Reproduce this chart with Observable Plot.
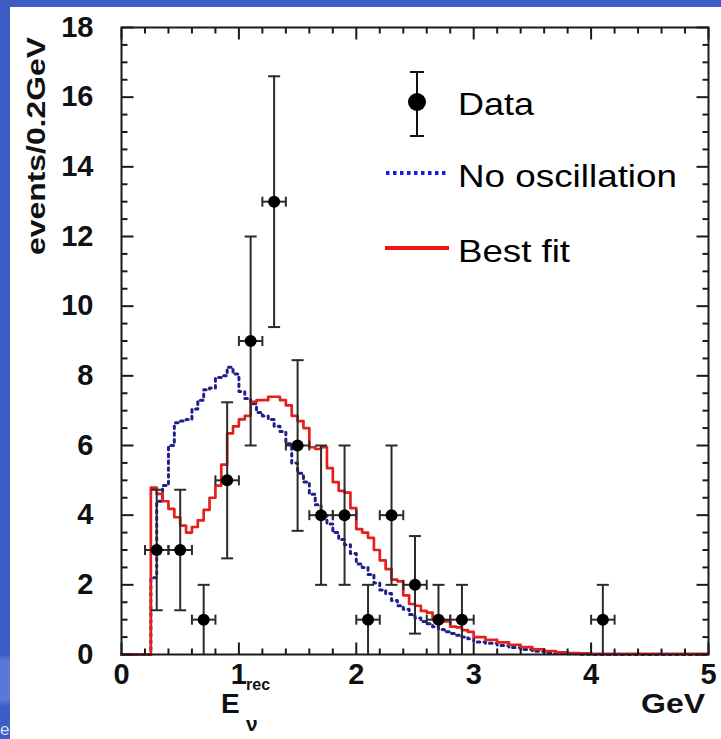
<!DOCTYPE html>
<html>
<head>
<meta charset="utf-8">
<script src="https://cdn.jsdelivr.net/npm/d3@7"></script>
<script src="https://cdn.jsdelivr.net/npm/@observablehq/plot@0.6"></script>
<style>
  html, body { margin: 0; padding: 0; }
  body { width: 721px; height: 739px; position: relative; overflow: hidden;
         background: linear-gradient(to bottom, #3e5cc6 0px, #3e5cc6 655px, #5a78da 660px, #5a78da 700px, #3e5cc6 706px, #3e5cc6 739px);
         font-family: "Liberation Sans", Arial, sans-serif; }
  #paper { position: absolute; left: 10px; top: 7px; width: 711px; height: 732px; background: #ffffff; }
  #overlay { position: absolute; left: 0; top: 0; pointer-events: none; }
</style>
</head>
<body>
<div id="paper"></div>
<svg id="overlay" width="721" height="739" font-family="Liberation Sans, Arial, sans-serif">
  <!-- legend -->
  <line x1="417" y1="72" x2="417" y2="136" stroke="#111" stroke-width="2"/>
  <line x1="410" y1="72" x2="424" y2="72" stroke="#111" stroke-width="2"/>
  <line x1="410" y1="136" x2="424" y2="136" stroke="#111" stroke-width="2"/>
  <circle cx="417" cy="102" r="9" fill="#000"/>
  <text x="458" y="115" font-size="32" textLength="76" lengthAdjust="spacingAndGlyphs" fill="#000">Data</text>
  <line x1="386" y1="173" x2="446" y2="173" stroke="#1a1ae8" stroke-width="4" stroke-dasharray="3.5,3.5"/>
  <text x="458" y="187" font-size="32" textLength="219" lengthAdjust="spacingAndGlyphs" fill="#000">No oscillation</text>
  <line x1="385" y1="248" x2="449" y2="248" stroke="#ee1515" stroke-width="4"/>
  <text x="458" y="262" font-size="32" textLength="112" lengthAdjust="spacingAndGlyphs" fill="#000">Best fit</text>
  <!-- axis titles -->
  <text transform="translate(45,146) rotate(-90)" text-anchor="middle" font-weight="bold" font-size="25" textLength="218" lengthAdjust="spacingAndGlyphs" fill="#111">events/0.2GeV</text>
  <text x="221" y="713" font-weight="bold" font-size="28" fill="#111">E</text>
  <text x="246" y="690" font-weight="bold" font-size="16" fill="#111">rec</text>
  <text x="246" y="731" font-weight="bold" font-size="21" fill="#111">ν</text>
  <text x="641" y="713" font-weight="bold" font-size="28" textLength="64" lengthAdjust="spacingAndGlyphs" fill="#111">GeV</text>
  <!-- slide page number fragment -->
  <text x="0" y="735" font-size="17" fill="#d8defa">e</text>
</svg>
<script>
// ---------- data ----------
// Measured points (centre of 0.2 GeV bin, counts, lower / upper error bar ends)
const dataX  = [0.3, 0.5, 0.7, 0.9, 1.1, 1.3, 1.5, 1.7, 1.9, 2.1, 2.3, 2.5, 2.7, 2.9, 4.1];
const dataN  = [3, 3, 1, 5, 9, 13, 6, 4, 4, 1, 4, 2, 1, 1, 1];
const dataLo = [1.27, 1.27, 0, 2.76, 6, 9.4, 3.55, 2, 2, 0, 2, 0.6, 0, 0, 0];
const dataHi = [4.73, 4.73, 2, 7.24, 12, 16.6, 8.45, 6, 6, 2, 6, 3.4, 2, 2, 2];
const binHalfWidth = 0.1;

// Histogram left bin edges (GeV) and the final right edge
const histEdges = [0,
  0.25, 0.30, 0.35, 0.40, 0.45, 0.50, 0.55, 0.60, 0.65, 0.70, 0.75, 0.80, 0.85, 0.90, 0.95,
  1.00, 1.05, 1.10, 1.15, 1.20, 1.25, 1.30, 1.35, 1.40, 1.45, 1.50, 1.55, 1.60, 1.65, 1.70, 1.75, 1.80, 1.85, 1.90, 1.95,
  2.00, 2.05, 2.10, 2.15, 2.20, 2.25, 2.30, 2.35, 2.40, 2.45, 2.50, 2.55, 2.60, 2.65, 2.70, 2.75, 2.80, 2.85, 2.90, 2.95,
  3.0, 3.1, 3.2, 3.3, 3.4, 3.5, 3.6, 3.7, 3.8, 3.9, 4.0];
const histEnd = 5.0;

// Best fit (red solid)
const bestFit = [0,
  4.79, 4.61, 4.40, 4.18, 3.94, 3.70, 3.50, 3.66, 3.85, 4.15, 4.50, 4.85, 5.45, 6.35, 6.55,
  6.75, 6.85, 7.25, 7.30, 7.30, 7.40, 7.40, 7.30, 7.15, 6.85, 6.70, 6.50, 5.95, 5.90, 5.95, 5.35, 4.95, 4.70, 4.65, 4.20,
  3.60, 3.50, 3.35, 3.00, 2.70, 2.45, 2.15, 2.10, 1.70, 1.45, 1.40, 1.25, 1.20, 1.05, 1.00, 0.95, 0.80, 0.78, 0.70, 0.65,
  0.50, 0.42, 0.35, 0.28, 0.21, 0.15, 0.10, 0.06, 0.04, 0.03, 0.02];

// No oscillation (blue dotted)
const noOsc = [0,
  2.20, 4.40, 4.85, 6.00, 6.65, 6.70, 6.75, 7.05, 7.30, 7.60, 7.65, 7.95, 8.00, 8.25, 8.05,
  7.55, 7.35, 7.20, 6.95, 6.85, 6.75, 6.55, 6.40, 6.05, 5.50, 5.20, 4.95, 4.60, 4.30, 4.00, 3.75, 3.50, 3.30, 3.15, 2.90,
  2.60, 2.50, 2.30, 2.05, 1.85, 1.75, 1.55, 1.40, 1.30, 1.15, 1.05, 0.95, 0.88, 0.80, 0.72, 0.65, 0.60, 0.55, 0.50, 0.45,
  0.36, 0.32, 0.26, 0.20, 0.14, 0.09, 0.05, 0.03, 0.02, 0.01, 0.00];

// Axis ticks
const xMajor = [0, 1, 2, 3, 4, 5];
const yMajor = [0, 2, 4, 6, 8, 10, 12, 14, 16, 18];
const xMinor = d3.range(0, 5.0001, 0.2).map(v => +v.toFixed(1)).filter(v => !xMajor.includes(v));
const yMinor = d3.range(0, 18.0001, 0.5).filter(v => !yMajor.includes(v));

// ---------- build ----------
const steps = vals => histEdges.map((e, i) => ({x: e, y: vals[i]}))
  .concat([{x: histEnd, y: vals[vals.length - 1]}]);

const points = dataX.map((x, i) => ({x, n: dataN[i], lo: dataLo[i], hi: dataHi[i]}));

const tick = (dx, dy) => ({draw(ctx) { ctx.moveTo(0, 0); ctx.lineTo(dx, dy); }});
const seg = (dx, dy) => ({draw(ctx) { ctx.moveTo(-dx, -dy); ctx.lineTo(dx, dy); }});

const MAJ = 12, MIN = 6;
const axisInk = {stroke: "#1a1a1a", strokeWidth: 2, fill: "none"};
const errInk = "#2b2b2b";
const errW = 2;

const plot = Plot.plot({
  width: 711,
  height: 732,
  marginLeft: 111,
  marginRight: 13,
  marginTop: 20,
  marginBottom: 85,
  x: {domain: [0, 5], axis: null},
  y: {domain: [0, 18], axis: null},
  style: {background: "transparent", fontFamily: "Liberation Sans, Arial, sans-serif", overflow: "visible"},
  marks: [
    // histograms
    Plot.line(steps(noOsc), {x: "x", y: "y", curve: "step-after", stroke: "#20208a", strokeWidth: 3, strokeDasharray: "2.6,4.2"}),
    Plot.line(steps(bestFit), {x: "x", y: "y", curve: "step-after", stroke: "#e2201c", strokeWidth: 2.7}),
    // error bars
    Plot.ruleX(points, {x: "x", y1: "lo", y2: "hi", stroke: errInk, strokeWidth: errW}),
    Plot.ruleY(points, {y: "n", x1: d => d.x - binHalfWidth, x2: d => d.x + binHalfWidth, stroke: errInk, strokeWidth: errW}),
    Plot.dot(points, {x: "x", y: "hi", symbol: seg(6, 0), stroke: errInk, strokeWidth: errW, fill: "none"}),
    Plot.dot(points.filter(d => d.lo > 0), {x: "x", y: "lo", symbol: seg(6, 0), stroke: errInk, strokeWidth: errW, fill: "none"}),
    Plot.dot(points, {x: d => d.x - binHalfWidth, y: "n", symbol: seg(0, 5), stroke: errInk, strokeWidth: errW, fill: "none"}),
    Plot.dot(points, {x: d => d.x + binHalfWidth, y: "n", symbol: seg(0, 5), stroke: errInk, strokeWidth: errW, fill: "none"}),
    Plot.dot(points, {x: "x", y: "n", r: 6, fill: "#000", stroke: null}),
    // frame
    Plot.frame({stroke: "#1a1a1a", strokeWidth: 2}),
    // inward ticks: left / right
    Plot.dot(yMajor, {y: d => d, frameAnchor: "left", symbol: tick(MAJ, 0), ...axisInk}),
    Plot.dot(yMinor, {y: d => d, frameAnchor: "left", symbol: tick(MIN, 0), ...axisInk}),
    Plot.dot(yMajor, {y: d => d, frameAnchor: "right", symbol: tick(-MAJ, 0), ...axisInk}),
    Plot.dot(yMinor, {y: d => d, frameAnchor: "right", symbol: tick(-MIN, 0), ...axisInk}),
    // inward ticks: bottom / top
    Plot.dot(xMajor, {x: d => d, frameAnchor: "bottom", symbol: tick(0, -MAJ), ...axisInk}),
    Plot.dot(xMinor, {x: d => d, frameAnchor: "bottom", symbol: tick(0, -MIN), ...axisInk}),
    Plot.dot(xMajor, {x: d => d, frameAnchor: "top", symbol: tick(0, MAJ), ...axisInk}),
    Plot.dot(xMinor, {x: d => d, frameAnchor: "top", symbol: tick(0, MIN), ...axisInk}),
    // tick labels
    Plot.text(yMajor, {y: d => d, frameAnchor: "left", dx: -28, textAnchor: "end", text: d => String(d),
      fontSize: 29, fontWeight: "bold", fill: "#111"}),
    Plot.text(xMajor, {x: d => d, frameAnchor: "bottom", dy: 9, lineAnchor: "top", text: d => String(d),
      fontSize: 29, fontWeight: "bold", fill: "#111"})
  ]
});

document.getElementById("paper").appendChild(plot);
</script>
</body>
</html>
